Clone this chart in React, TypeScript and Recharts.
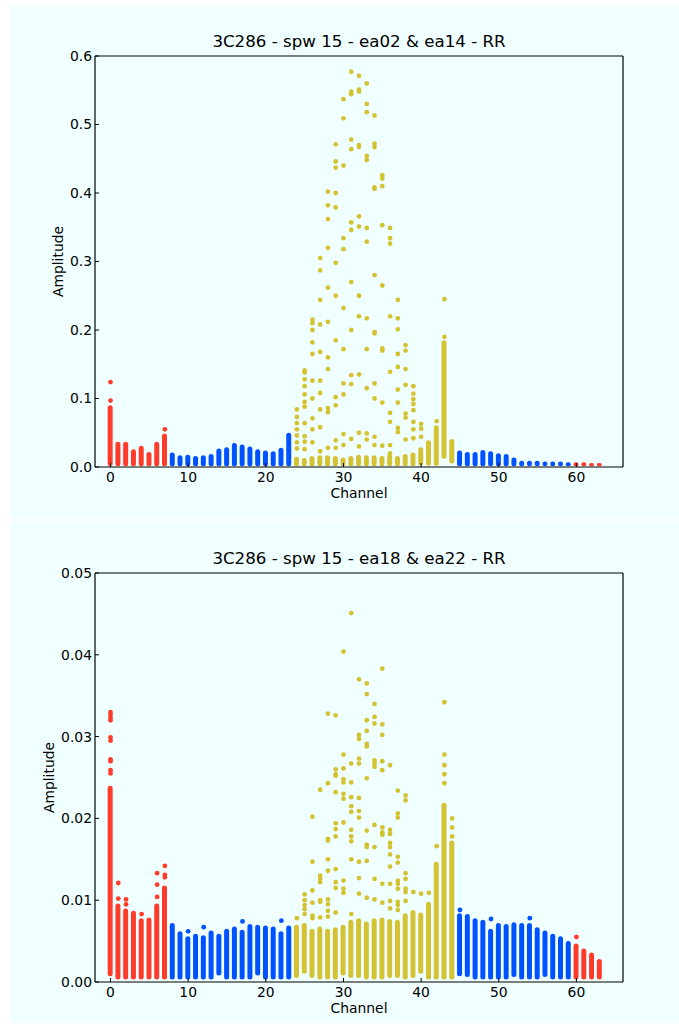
import React from 'react';
import { ComposedChart, Bar, Scatter, XAxis, YAxis, Cell } from 'recharts';

// ---------- data ----------
const channels: number[] = Array.from({ length: 64 }, (_, i) => i);
const channelTicks = [0, 10, 20, 30, 40, 50, 60];

// channel groups (colour coding of the spectral window)
const edgeRanges: [number, number][] = [[0, 7], [60, 63]];
const lineRanges: [number, number][] = [[24, 44]];

// ea02 & ea14: dense amplitude band per channel (low / high)
const topLow = [
  0.0015, 0.001, 0.001, 0.001, 0.001, 0.001, 0.001, 0.001, 0.001, 0.001, 0.001, 0.001, 0.001, 0.001, 0.001, 0.001,
  0.001, 0.001, 0.001, 0.001, 0.001, 0.001, 0.001, 0.001, 0.001, 0.001, 0.001, 0.001, 0.001, 0.001, 0.001, 0.001,
  0.001, 0.001, 0.001, 0.001, 0.001, 0.001, 0.001, 0.001, 0.002, 0.002, 0.002, 0.012, 0.005, 0.001, 0.001, 0.001,
  0.001, 0.001, 0.001, 0.001, 0.001, 0.001, 0.001, 0.001, 0.001, 0.001, 0.001, 0.001, 0.001, 0.001, 0.001, 0.001,
];
const topHigh = [
  0.090, 0.037, 0.037, 0.026, 0.031, 0.022, 0.037, 0.049, 0.021, 0.017, 0.018, 0.016, 0.017, 0.019, 0.027, 0.029,
  0.035, 0.033, 0.030, 0.026, 0.024, 0.023, 0.028, 0.050, 0.015, 0.013, 0.016, 0.017, 0.017, 0.016, 0.014, 0.016,
  0.018, 0.017, 0.017, 0.016, 0.019, 0.016, 0.019, 0.021, 0.029, 0.039, 0.061, 0.185, 0.041, 0.024, 0.022, 0.022,
  0.025, 0.023, 0.020, 0.019, 0.014, 0.009, 0.009, 0.009, 0.008, 0.008, 0.008, 0.007, 0.007, 0.007, 0.006, 0.006,
];
// ea02 & ea14: isolated samples [channel, amplitudes]
const topOutliers: [number, number[]][] = [
  [0, [0.097, 0.124]],
  [7, [0.055]],
  [24, [0.084, 0.073, 0.064, 0.055, 0.046, 0.036, 0.027]],
  [25, [0.141, 0.138, 0.128, 0.118, 0.106, 0.095, 0.088, 0.064, 0.045, 0.037, 0.026]],
  [26, [0.215, 0.21, 0.2, 0.182, 0.165, 0.126, 0.1, 0.071, 0.055, 0.036]],
  [27, [0.305, 0.287, 0.244, 0.208, 0.168, 0.126, 0.108, 0.084, 0.058, 0.023]],
  [28, [0.402, 0.382, 0.362, 0.32, 0.262, 0.212, 0.16, 0.143, 0.086, 0.08, 0.028]],
  [29, [0.471, 0.446, 0.437, 0.4, 0.379, 0.298, 0.25, 0.185, 0.102, 0.09, 0.039, 0.028]],
  [30, [0.537, 0.509, 0.44, 0.334, 0.318, 0.232, 0.172, 0.122, 0.106, 0.048, 0.032]],
  [31, [0.577, 0.548, 0.544, 0.478, 0.464, 0.357, 0.346, 0.27, 0.2, 0.134, 0.121, 0.041]],
  [32, [0.571, 0.551, 0.548, 0.47, 0.467, 0.366, 0.351, 0.25, 0.22, 0.135, 0.05, 0.03]],
  [33, [0.56, 0.53, 0.518, 0.454, 0.448, 0.349, 0.329, 0.217, 0.172, 0.115, 0.049, 0.04]],
  [34, [0.513, 0.472, 0.467, 0.408, 0.406, 0.28, 0.197, 0.195, 0.122, 0.1, 0.044, 0.032]],
  [35, [0.426, 0.421, 0.41, 0.353, 0.265, 0.173, 0.17, 0.094, 0.031]],
  [36, [0.349, 0.334, 0.326, 0.22, 0.139, 0.079, 0.066, 0.032, 0.02]],
  [37, [0.244, 0.217, 0.201, 0.165, 0.146, 0.113, 0.094, 0.057, 0.051]],
  [38, [0.178, 0.17, 0.143, 0.12, 0.078, 0.072, 0.04]],
  [39, [0.118, 0.107, 0.099, 0.092, 0.083, 0.066, 0.055, 0.042]],
  [40, [0.063, 0.056, 0.044]],
  [42, [0.067]],
  [43, [0.19, 0.245]],
];
const topTicks = [0, 0.1, 0.2, 0.3, 0.4, 0.5, 0.6];

// ea18 & ea22: dense amplitude band per channel (low / high)
const bottomLow = [
  0.0007, 0.0003, 0.0003, 0.0003, 0.0003, 0.0003, 0.0003, 0.0003, 0.0003, 0.0003, 0.0003, 0.0003, 0.0003, 0.0003, 0.0008, 0.0003,
  0.0003, 0.0003, 0.0003, 0.0008, 0.0003, 0.0003, 0.0003, 0.0003, 0.0005, 0.0010, 0.0005, 0.0003, 0.0003, 0.0003, 0.0008, 0.0005,
  0.0005, 0.0003, 0.0003, 0.0003, 0.0005, 0.0005, 0.0003, 0.0005, 0.0010, 0.0003, 0.0003, 0.0003, 0.0003, 0.0007, 0.0006, 0.0003,
  0.0003, 0.0003, 0.0003, 0.0003, 0.0006, 0.0003, 0.0003, 0.0003, 0.0006, 0.0003, 0.0003, 0.0003, 0.0003, 0.0003, 0.0003, 0.0003,
];
const bottomHigh = [
  0.0240, 0.0096, 0.0090, 0.0087, 0.0078, 0.0079, 0.0096, 0.0118, 0.0072, 0.0062, 0.0056, 0.0059, 0.0057, 0.0063, 0.0059, 0.0065,
  0.0068, 0.0064, 0.0071, 0.0070, 0.0069, 0.0068, 0.0062, 0.0069, 0.0070, 0.0072, 0.0065, 0.0068, 0.0065, 0.0067, 0.0070, 0.0076,
  0.0078, 0.0074, 0.0078, 0.0079, 0.0077, 0.0076, 0.0084, 0.0088, 0.0085, 0.0098, 0.0147, 0.0219, 0.0173, 0.0084, 0.0083, 0.0078,
  0.0076, 0.0065, 0.0072, 0.0071, 0.0073, 0.0072, 0.0072, 0.0067, 0.0063, 0.0059, 0.0056, 0.0050, 0.0047, 0.0041, 0.0036, 0.0028,
];
// ea18 & ea22: isolated samples [channel, amplitudes]
const bottomOutliers: [number, number[]][] = [
  [0, [0.033, 0.0327, 0.0323, 0.032, 0.0299, 0.0295, 0.0272, 0.027, 0.0259, 0.0255]],
  [1, [0.0102, 0.0121]],
  [2, [0.0101, 0.0095]],
  [4, [0.0083]],
  [6, [0.0104, 0.0119, 0.0133]],
  [7, [0.0131, 0.0128, 0.0142]],
  [10, [0.0062]],
  [12, [0.0067]],
  [17, [0.0074]],
  [22, [0.0075]],
  [24, [0.0078]],
  [25, [0.0083, 0.0089, 0.0094, 0.01, 0.0107]],
  [26, [0.0078, 0.0081, 0.0097, 0.0112, 0.0147, 0.0202]],
  [27, [0.0079, 0.0098, 0.01, 0.0122, 0.0126, 0.013, 0.0235]],
  [28, [0.008, 0.0087, 0.0095, 0.0101, 0.0136, 0.015, 0.0173, 0.0175, 0.0243, 0.0328]],
  [29, [0.0085, 0.0115, 0.0122, 0.0138, 0.0178, 0.0187, 0.0194, 0.0232, 0.0252, 0.0254, 0.026, 0.0326]],
  [30, [0.0109, 0.0114, 0.0124, 0.0195, 0.0224, 0.023, 0.0244, 0.0248, 0.0261, 0.0278, 0.0404]],
  [31, [0.0083, 0.015, 0.0172, 0.0178, 0.0186, 0.0208, 0.0215, 0.0226, 0.0244, 0.0267, 0.0451]],
  [32, [0.0108, 0.0127, 0.0147, 0.0201, 0.0209, 0.0225, 0.0267, 0.0273, 0.0297, 0.0302, 0.037]],
  [33, [0.0103, 0.0148, 0.0165, 0.0168, 0.0185, 0.0249, 0.0288, 0.0291, 0.0307, 0.032, 0.0352, 0.0365]],
  [34, [0.0101, 0.0126, 0.0165, 0.0192, 0.0263, 0.0267, 0.0271, 0.0316, 0.0324, 0.034]],
  [35, [0.0097, 0.012, 0.018, 0.0183, 0.0189, 0.0259, 0.027, 0.0302, 0.0315, 0.0383]],
  [36, [0.009, 0.0099, 0.012, 0.0141, 0.0156, 0.0165, 0.017, 0.0181, 0.0186, 0.0265]],
  [37, [0.0088, 0.0094, 0.0098, 0.0114, 0.012, 0.0124, 0.0146, 0.0153, 0.0201, 0.0206, 0.0234]],
  [38, [0.0099, 0.011, 0.0114, 0.0126, 0.0133, 0.0222, 0.0228]],
  [39, [0.011]],
  [40, [0.0108]],
  [41, [0.0109]],
  [42, [0.0166]],
  [43, [0.0243, 0.0254, 0.0265, 0.0278, 0.0342]],
  [44, [0.02, 0.0189, 0.0178]],
  [45, [0.0088]],
  [49, [0.0077]],
  [54, [0.0078]],
  [60, [0.0055]],
];
const bottomTicks = [0, 0.01, 0.02, 0.03, 0.04, 0.05];

// ---------- styling ----------
const FONT = '"DejaVu Sans", Verdana, sans-serif';
const BG = '#F0FFFF';
const RED = '#FF3B2B';
const BLUE = '#0051FF';
const YELLOW = '#D3C332';
const INK = '#000000';

const inRanges = (ch: number, ranges: [number, number][]) =>
  ranges.some(([a, b]) => ch >= a && ch <= b);
const colorOf = (ch: number) =>
  inRanges(ch, edgeRanges) ? RED : inRanges(ch, lineRanges) ? YELLOW : BLUE;

const CHART_W = 669;
const PANEL_W = 700; // background runs past the right window edge

type PanelProps = {
  title: string;
  top: number;
  height: number;
  marginTop: number;
  marginBottom: number;
  low: number[];
  high: number[];
  outliers: [number, number[]][];
  yTicks: number[];
  decimals: number;
  ampX: number;
};

const SampleDot = (p: any) => {
  if (p.cx == null || p.cy == null) return null;
  return <circle cx={p.cx} cy={p.cy} r={2.4} fill={colorOf(p.payload.ch)} />;
};

function AmplitudePanel({
  title, top, height, marginTop, marginBottom, low, high, outliers, yTicks, decimals, ampX,
}: PanelProps) {
  const columns = channels.map((ch) => ({ ch, range: [low[ch], high[ch]] }));
  const samples = outliers.flatMap(([ch, vs]) => vs.map((v) => ({ ch, v })));
  const yMax = yTicks[yTicks.length - 1];
  const plotTop = marginTop;
  const plotBottom = height - marginBottom - 30;
  const plotMidX = 85 + (CHART_W - 55 - 1 - 85) / 2;
  const tickStyle = { fill: INK, fontSize: 13.9, fontFamily: FONT };
  const lineStyle = { stroke: INK, strokeWidth: 1.2 };

  return (
    <div style={{ position: 'absolute', left: 10, top, width: PANEL_W, height, background: BG }}>
      <ComposedChart
        width={CHART_W}
        height={height}
        data={columns}
        margin={{ top: marginTop - 1, right: 55, bottom: marginBottom, left: 0 }}
      >
        <XAxis
          xAxisId="b"
          dataKey="ch"
          type="number"
          orientation="bottom"
          domain={[-2, 66]}
          allowDataOverflow
          ticks={channelTicks}
          interval={0}
          height={30}
          tickSize={-4}
          tickMargin={9}
          tick={tickStyle}
          axisLine={lineStyle}
          tickLine={{ stroke: INK, strokeWidth: 1 }}
        />
        <XAxis
          xAxisId="t"
          dataKey="ch"
          type="number"
          orientation="top"
          domain={[-2, 66]}
          allowDataOverflow
          ticks={channelTicks}
          interval={0}
          height={1}
          tickSize={-4}
          tick={false}
          axisLine={lineStyle}
          tickLine={{ stroke: INK, strokeWidth: 1 }}
        />
        <YAxis
          yAxisId="l"
          type="number"
          orientation="left"
          domain={[0, yMax]}
          allowDataOverflow
          ticks={yTicks}
          interval={0}
          width={85}
          tickSize={-4}
          tickMargin={7}
          tick={tickStyle}
          tickFormatter={(v: number) => v.toFixed(decimals)}
          axisLine={lineStyle}
          tickLine={{ stroke: INK, strokeWidth: 1 }}
        />
        <YAxis
          yAxisId="r"
          type="number"
          orientation="right"
          domain={[0, yMax]}
          allowDataOverflow
          ticks={yTicks}
          interval={0}
          width={1}
          tickSize={-4}
          tick={false}
          axisLine={lineStyle}
          tickLine={{ stroke: INK, strokeWidth: 1 }}
        />
        <Bar
          xAxisId="b"
          yAxisId="l"
          dataKey="range"
          barSize={5}
          radius={2.5}
          isAnimationActive={false}
        >
          {columns.map((c) => (
            <Cell key={c.ch} fill={colorOf(c.ch)} />
          ))}
        </Bar>
        <Scatter
          xAxisId="b"
          yAxisId="l"
          data={samples}
          dataKey="v"
          shape={SampleDot}
          isAnimationActive={false}
        />
      </ComposedChart>
      <svg
        width={CHART_W}
        height={height}
        style={{ position: 'absolute', left: 0, top: 0, pointerEvents: 'none' }}
        fontFamily={FONT}
      >
        <text x={plotMidX} y={plotTop - 9} textAnchor="middle" fontSize={16.67} fill={INK}>
          {title}
        </text>
        <text x={plotMidX} y={plotBottom + 31} textAnchor="middle" fontSize={13.9} fill={INK}>
          Channel
        </text>
        <text
          x={ampX}
          y={(plotTop + plotBottom) / 2}
          textAnchor="middle"
          dominantBaseline="central"
          fontSize={13.9}
          fill={INK}
          transform={`rotate(-90 ${ampX} ${(plotTop + plotBottom) / 2})`}
        >
          Amplitude
        </text>
      </svg>
    </div>
  );
}

export default function App() {
  return (
    <div
      style={{
        position: 'fixed',
        left: 0,
        top: 0,
        width: 679,
        height: 1028,
        overflow: 'hidden',
        background: '#FFFFFF',
      }}
    >
      <AmplitudePanel
        title="3C286 - spw 15 - ea02 & ea14 - RR"
        top={6}
        height={513}
        marginTop={50}
        marginBottom={22}
        low={topLow}
        high={topHigh}
        outliers={topOutliers}
        yTicks={topTicks}
        decimals={1}
        ampX={48}
      />
      <AmplitudePanel
        title="3C286 - spw 15 - ea18 & ea22 - RR"
        top={521}
        height={502}
        marginTop={52}
        marginBottom={11}
        low={bottomLow}
        high={bottomHigh}
        outliers={bottomOutliers}
        yTicks={bottomTicks}
        decimals={2}
        ampX={39}
      />
    </div>
  );
}
